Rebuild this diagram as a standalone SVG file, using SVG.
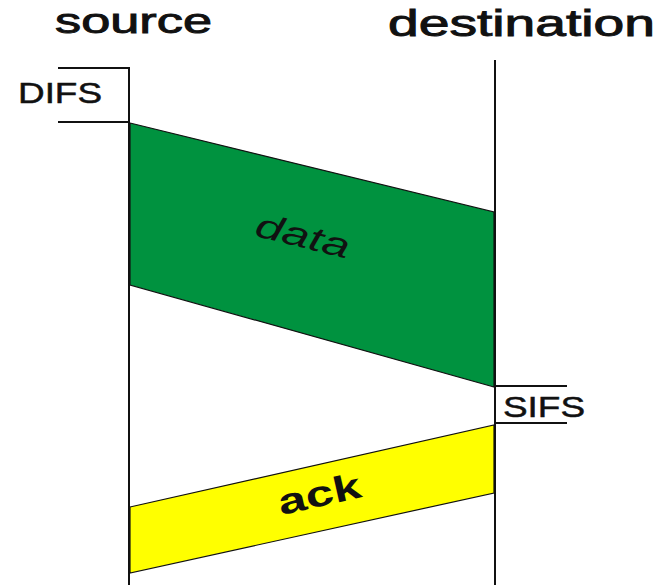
<svg xmlns="http://www.w3.org/2000/svg" width="665" height="585" viewBox="0 0 665 585">
<style>
.lbl{font-family:"Liberation Sans",Arial,sans-serif;fill:#111;}
.med{stroke:#111;stroke-width:0.9;}
.ln{stroke:#111;stroke-width:2;fill:none;}
.frame{stroke:#111;stroke-width:1.2;}
</style>
<rect width="665" height="585" fill="#fff"/>
<g id="connectors">
<polyline class="ln" points="58,68 129,68 129,585"/>
<line class="ln" x1="58" y1="122" x2="129" y2="122"/>
<line class="ln" x1="495" y1="60" x2="495" y2="585"/>
<line class="ln" x1="495" y1="386" x2="567" y2="386"/>
<line class="ln" x1="495" y1="423" x2="567" y2="423"/>
</g>
<g id="source"><text class="lbl med" x="55" y="33" font-size="35" textLength="157" lengthAdjust="spacingAndGlyphs">source</text></g>
<g id="destination"><text class="lbl med" x="388" y="36" font-size="36" textLength="267" lengthAdjust="spacingAndGlyphs">destination</text></g>
<g id="difs"><text class="lbl" x="18" y="103" font-size="29" stroke="#111" stroke-width="0.5" textLength="84" lengthAdjust="spacingAndGlyphs">DIFS</text></g>
<g id="sifs"><text class="lbl" x="503" y="417" font-size="30" stroke="#111" stroke-width="0.5" textLength="82" lengthAdjust="spacingAndGlyphs">SIFS</text></g>
<g id="data">
<polygon class="frame" fill="#00923f" points="130,123 494,212 494,387 130,285"/>
<text class="lbl" font-size="34" font-style="italic" text-anchor="middle" transform="translate(300,247) rotate(14)" textLength="96" lengthAdjust="spacingAndGlyphs">data</text>
</g>
<g id="ack">
<polygon class="frame" fill="#ffff00" points="130,507 494,425 494,493 130,573"/>
<text class="lbl" font-size="36" font-weight="bold" text-anchor="middle" transform="translate(322,506) rotate(-12.7)" textLength="84" lengthAdjust="spacingAndGlyphs">ack</text>
</g>
</svg>
